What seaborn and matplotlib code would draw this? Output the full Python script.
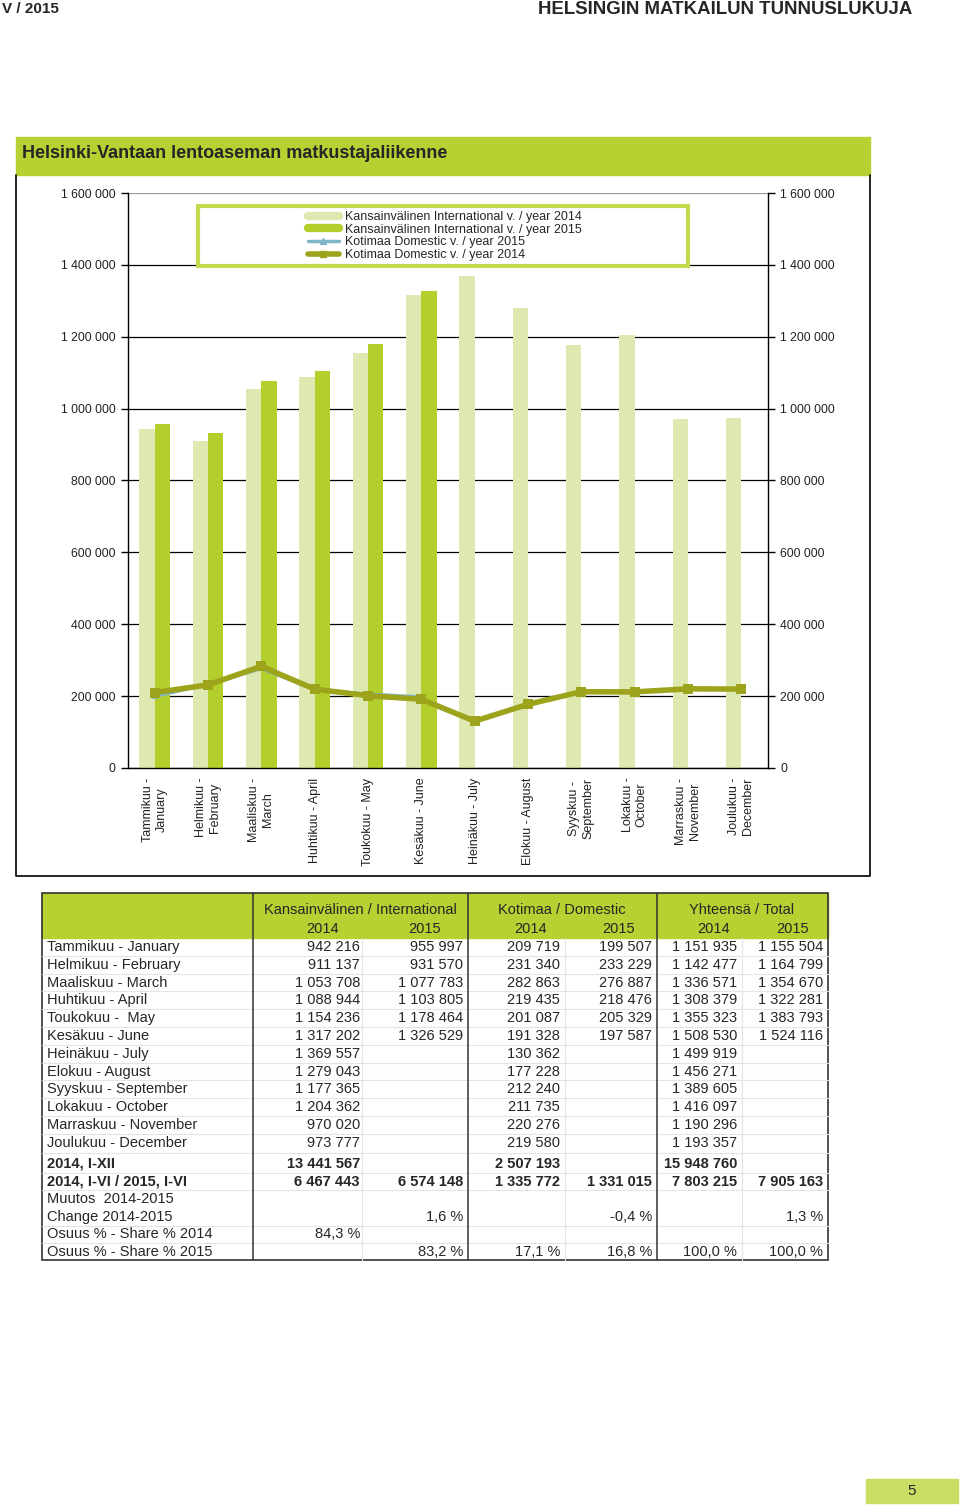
import numpy as np
import pandas as pd
import matplotlib
matplotlib.use("Agg")
import matplotlib.pyplot as plt
import seaborn as sns
from matplotlib.patches import Rectangle
from matplotlib.lines import Line2D
from matplotlib.ticker import FuncFormatter

W, H = 960, 1511

# ---- data ----
month_axis_labels = ["Tammikuu -\nJanuary", "Helmikuu -\nFebruary", "Maaliskuu -\nMarch",
                     "Huhtikuu - April", "Toukokuu - May", "Kesäkuu - June",
                     "Heinäkuu - July", "Elokuu - August", "Syyskuu -\nSeptember",
                     "Lokakuu -\nOctober", "Marraskuu -\nNovember", "Joulukuu -\nDecember"]
month_rows = ["Tammikuu - January", "Helmikuu - February", "Maaliskuu - March",
              "Huhtikuu - April", "Toukokuu -  May", "Kesäkuu - June", "Heinäkuu - July",
              "Elokuu - August", "Syyskuu - September", "Lokakuu - October",
              "Marraskuu - November", "Joulukuu - December"]

intl_2014 = [942216, 911137, 1053708, 1088944, 1154236, 1317202,
             1369557, 1279043, 1177365, 1204362, 970020, 973777]
intl_2015 = [955997, 931570, 1077783, 1103805, 1178464, 1326529]
dom_2014 = [209719, 231340, 282863, 219435, 201087, 191328,
            130362, 177228, 212240, 211735, 220276, 219580]
dom_2015 = [199507, 233229, 276887, 218476, 205329, 197587]
tot_2014 = [1151935, 1142477, 1336571, 1308379, 1355323, 1508530,
            1499919, 1456271, 1389605, 1416097, 1190296, 1193357]
tot_2015 = [1155504, 1164799, 1354670, 1322281, 1383793, 1524116]

legend_labels = ["Kansainvälinen International v. / year 2014",
                 "Kansainvälinen International v. / year 2015",
                 "Kotimaa Domestic v. / year 2015",
                 "Kotimaa Domestic v. / year 2014"]

group_headers = ["Kansainvälinen / International", "Kotimaa / Domestic", "Yhteensä / Total"]
year_headers = ["2014", "2015", "2014", "2015", "2014", "2015"]

summary_labels = ["2014, I-XII", "2014, I-VI / 2015, I-VI", "Muutos  2014-2015",
                  "Change 2014-2015", "Osuus % - Share % 2014", "Osuus % - Share % 2015"]
summary_cells = [
    ["13 441 567", "", "2 507 193", "", "15 948 760", ""],
    ["6 467 443", "6 574 148", "1 335 772", "1 331 015", "7 803 215", "7 905 163"],
    ["", "", "", "", "", ""],
    ["", "1,6 %", "", "-0,4 %", "", "1,3 %"],
    ["84,3 %", "", "", "", "", ""],
    ["", "83,2 %", "17,1 %", "16,8 %", "100,0 %", "100,0 %"],
]
summary_bold = [True, True, False, False, False, False]

LIGHT = "#dde9b0"
DARK = "#b3cf2c"
OLIVE = "#9ea31c"
BLUE = "#80b4c8"
GREEN = "#b5d132"

sns.set_theme(style="white")
plt.rcParams["font.family"] = ["Liberation Sans", "DejaVu Sans"]


def fx(x):
    return x / W


def fy(y):
    return 1 - y / H


def spaced(v):
    return f"{int(v):,}".replace(",", " ")


fig = plt.figure(figsize=(W / 100, H / 100), dpi=100)

# page header
fig.text(fx(2), fy(9), "V / 2015", ha="left", va="center", weight="bold", size=11)
fig.text(fx(912), fy(9), "HELSINGIN MATKAILUN TUNNUSLUKUJA", ha="right", va="center",
         weight="bold", size=13.4)

# chart title bar + frame
fig.add_artist(Rectangle((fx(16), fy(175)), fx(870) - fx(16), 38 / H,
                         transform=fig.transFigure, color=GREEN, zorder=0))
fig.text(fx(22), fy(153), "Helsinki-Vantaan lentoaseman matkustajaliikenne", ha="left",
         va="center", weight="bold", size=13)
fig.add_artist(Line2D([fx(16), fx(16), fx(870), fx(870)], [fy(175), fy(876), fy(876), fy(175)],
                      transform=fig.transFigure, color="black", lw=1.2))

# ---- chart ----
ax = fig.add_axes([fx(128), fy(768), 640 / W, 575 / H])

intl = pd.DataFrame({
    "month": month_rows * 2,
    "year": ["2014"] * 12 + ["2015"] * 12,
    "value": intl_2014 + intl_2015 + [np.nan] * (12 - len(intl_2015)),
})
sns.barplot(data=intl, x="month", y="value", hue="year", order=month_rows,
            hue_order=["2014", "2015"], palette=[LIGHT, DARK], width=0.58,
            saturation=1, legend=False, edgecolor="none", ax=ax)

d15 = pd.DataFrame({"pos": range(len(dom_2015)), "value": dom_2015})
d14 = pd.DataFrame({"pos": range(len(dom_2014)), "value": dom_2014})
sns.lineplot(data=d15, x="pos", y="value", color=BLUE, lw=2.5, marker="^",
             markersize=5, markeredgewidth=0, ax=ax)
sns.lineplot(data=d14, x="pos", y="value", color=OLIVE, lw=4, marker="s",
             markersize=7, markeredgewidth=0, ax=ax)

yt = np.arange(0, 1_600_001, 200_000)
ax.set_xlim(-0.5, 11.5)
ax.set_ylim(0, 1_600_000)
ax.set_yticks(yt)
ax.yaxis.set_major_formatter(FuncFormatter(lambda v, p: spaced(v)))
ax.set_xticks(range(12))
ax.set_xticklabels(month_axis_labels, rotation=90, ha="center", va="top",
                   multialignment="center", fontsize=9, color="#222222")
ax.set_xticks(np.arange(-0.5, 12, 1), minor=True)
ax.tick_params(axis="x", which="major", length=0, pad=7)
ax.tick_params(axis="x", which="minor", length=5, width=1, color="black", direction="out")
ax.tick_params(axis="y", length=5, width=1, color="black", direction="out",
               labelsize=8.8, labelcolor="#222222", pad=4, left=True)
ax.set_xlabel("")
ax.set_ylabel("")
ax.grid(False)
ax.yaxis.grid(True, color="black", lw=0.9)
ax.get_ygridlines()[-1].set_color("#9a9a9a")
ax.set_axisbelow(True)
ax.spines["top"].set_visible(False)
ax.spines["right"].set_visible(False)
for s in ["left", "bottom"]:
    ax.spines[s].set_color("black")
    ax.spines[s].set_linewidth(1)

ax2 = ax.twinx()
ax2.set_ylim(0, 1_600_000)
ax2.set_yticks(yt)
ax2.yaxis.set_major_formatter(FuncFormatter(lambda v, p: spaced(v)))
ax2.tick_params(axis="y", length=5, width=1, color="black", direction="out",
                labelsize=8.8, labelcolor="#222222", pad=4, right=True)
ax2.grid(False)
for s in ["left", "top", "bottom"]:
    ax2.spines[s].set_visible(False)
ax2.spines["right"].set_color("black")
ax2.spines["right"].set_linewidth(1)

# legend box
ax2.add_patch(Rectangle((0.109, 0.873), 0.766, 0.104, transform=ax2.transAxes,
                        facecolor="white", edgecolor="#c2da4e", lw=3, zorder=4))
handles = [Line2D([], [], color=LIGHT, lw=6),
           Line2D([], [], color=DARK, lw=6),
           Line2D([], [], color=BLUE, lw=2.5, marker="^", markersize=4),
           Line2D([], [], color=OLIVE, lw=4, marker="s", markersize=5)]
leg = ax2.legend(handles, legend_labels, loc="center", bbox_to_anchor=(0.495, 0.925),
                 frameon=False, fontsize=9, handlelength=2.5, labelspacing=0.05,
                 handletextpad=0.5, borderpad=0)
leg.set_zorder(6)

# ---- table ----
T_L, T_R, T_TOP, T_HDR, T_BOT = 42, 828, 893, 938, 1260
fig.add_artist(Rectangle((fx(T_L), fy(T_HDR)), fx(T_R) - fx(T_L), (T_HDR - T_TOP) / H,
                         transform=fig.transFigure, color=GREEN, zorder=0))

col_right = [360, 463, 560, 652, 737, 823]
year_x = [323, 425, 531, 619, 714, 793]
group_x = [360, 562, 742]

month_y = [947 + 17.8 * i for i in range(12)]
summary_y = [1164 + 17.6 * j for j in range(6)]

# faint row lines
row_lines = [938 + 17.8 * k for k in range(1, 12)] + [1153]
row_lines += [summary_y[j] + 8.8 for j in range(5) if j != 2]
for y in row_lines:
    fig.add_artist(Line2D([fx(T_L), fx(T_R)], [fy(y), fy(y)], transform=fig.transFigure,
                          color="#e4e4e4", lw=0.8))
for x in [362, 565, 742]:
    fig.add_artist(Line2D([fx(x), fx(x)], [fy(T_HDR), fy(T_BOT)], transform=fig.transFigure,
                          color="#e4e4e4", lw=0.8))
for x in [253, 468, 657]:
    fig.add_artist(Line2D([fx(x), fx(x)], [fy(T_TOP), fy(T_BOT)], transform=fig.transFigure,
                          color="#333333", lw=1.1))
fig.add_artist(Rectangle((fx(T_L), fy(T_BOT)), fx(T_R) - fx(T_L), (T_BOT - T_TOP) / H,
                         transform=fig.transFigure, fill=False, edgecolor="#333333", lw=1.2))

TS = 10.5
for gx, g in zip(group_x, group_headers):
    fig.text(fx(gx), fy(910), g, ha="center", va="center", size=TS)
for xx, yl in zip(year_x, year_headers):
    fig.text(fx(xx), fy(929), yl, ha="center", va="center", size=TS)

for i, lab in enumerate(month_rows):
    y = fy(month_y[i])
    fig.text(fx(47), y, lab, ha="left", va="center", size=TS)
    vals = [intl_2014[i], intl_2015[i] if i < len(intl_2015) else None,
            dom_2014[i], dom_2015[i] if i < len(dom_2015) else None,
            tot_2014[i], tot_2015[i] if i < len(tot_2015) else None]
    for xr, v in zip(col_right, vals):
        if v is not None:
            fig.text(fx(xr), y, spaced(v), ha="right", va="center", size=TS)

for j, lab in enumerate(summary_labels):
    y = fy(summary_y[j])
    w = "bold" if summary_bold[j] else "normal"
    fig.text(fx(47), y, lab, ha="left", va="center", size=TS, weight=w)
    for xr, c in zip(col_right, summary_cells[j]):
        if c:
            fig.text(fx(xr), y, c, ha="right", va="center", size=TS, weight=w)

# page number
fig.add_artist(Rectangle((fx(866), fy(1503)), fx(958) - fx(866), 24 / H,
                         transform=fig.transFigure, color="#c8de64", zorder=0))
fig.text(fx(912), fy(1491), "5", ha="center", va="center", size=11)

fig.savefig("out.png", dpi=100)
